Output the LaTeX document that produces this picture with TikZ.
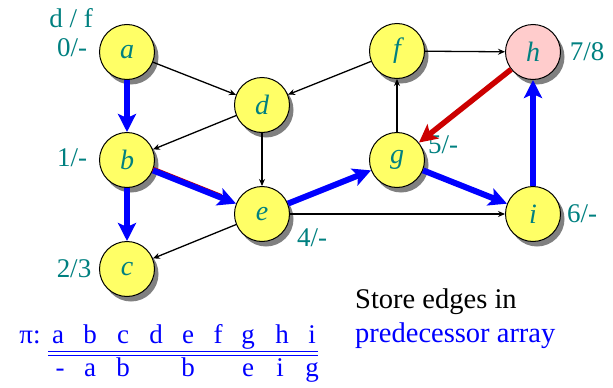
\documentclass[tikz,border=0pt]{standalone}
\usepackage{fontspec}
\setmainfont{Liberation Serif}
\usetikzlibrary{arrows.meta,shadows}
\definecolor{tealc}{RGB}{0,128,128}
\definecolor{nodey}{RGB}{255,255,102}
\definecolor{nodep}{RGB}{255,204,204}
\definecolor{redc}{RGB}{204,0,0}
\tikzset{
  vtx/.style={circle, draw=black, line width=1pt, fill=nodey, minimum size=55pt, inner sep=0pt,
    font=\fontsize{28}{28}\selectfont\itshape, text=tealc,
    drop shadow={shadow xshift=4pt, shadow yshift=-5pt, fill=gray, opacity=1}},
  lbl/.style={font=\fontsize{27}{27}\selectfont, text=tealc, inner sep=0pt},
  thinedge/.style={draw=black, line width=1.3pt, -{Stealth[length=7pt,width=6pt]}},
  blueedge/.style={draw=blue, line width=6pt, -{Stealth[length=18pt,width=18pt,inset=4pt]}},
  rededge/.style={draw=redc, line width=5.5pt, -{Stealth[length=18pt,width=18pt,inset=4pt]}},
  tbl/.style={font=\fontsize{27}{27}\selectfont, text=blue, anchor=base, inner sep=0pt},
  note/.style={font=\fontsize{28.5}{28.5}\selectfont, anchor=base west, inner sep=0pt}
}
\begin{document}
\begin{tikzpicture}[x=1pt,y=-1pt]
\useasboundingbox (0,0) rectangle (613,388);
% vertices
\node[vtx] (a) at (127,52) {a};
\node[vtx] (b) at (127,160) {b};
\node[vtx] (c) at (127,269) {c};
\node[vtx] (d) at (262,105) {d};
\node[vtx] (e) at (262,214) {e};
\node[vtx] (f) at (397,51) {f};
\node[vtx] (g) at (397,160) {g};
\node[vtx, fill=nodep] (h) at (533,52) {h};
\node[vtx] (i) at (533,214) {i};
% labels
\node[lbl] (ldf) at (71,18) {d / f};
\node[lbl] (la) at (72,48) {0/-};
\node[lbl] (lb) at (72,158) {1/-};
\node[lbl] (lc) at (74,269) {2/3};
\node[lbl] (le) at (312,238) {4/-};
\node[lbl] (lg) at (443,145) {5/-};
\node[lbl] (lh) at (587,52) {7/8};
\node[lbl] (li) at (582,214) {6/-};
% black edges
\draw[thinedge] (a) -- (d);
\draw[thinedge] (d) -- (b);
\draw[thinedge] (d) -- (e);
\draw[thinedge] (e) -- (c);
\draw[thinedge] (e) -- (i);
\draw[thinedge] (f) -- (d);
\draw[thinedge] (g) -- (f);
\draw[thinedge] (f) -- (h);
% red edge
\draw[rededge] (h) -- (g);
% blue tree edges
\draw[draw=redc, line width=5pt, shorten >=16pt, transform canvas={yshift=1.2pt}] (b) -- (e);
\draw[blueedge] (a) -- (b);
\draw[blueedge] (b) -- (c);
\draw[blueedge] (b) -- (e);
\draw[blueedge] (e) -- (g);
\draw[blueedge] (g) -- (i);
\draw[blueedge] (i) -- (h);
% predecessor table
\node[tbl] (pi) at (30,343) {π:};
\node[tbl] (ta) at (58,343) {a};
\node[tbl] (tb) at (90,343) {b};
\node[tbl] (tc) at (123,343) {c};
\node[tbl] (td) at (156,343) {d};
\node[tbl] (te) at (188,343) {e};
\node[tbl] (tf) at (218,343) {f};
\node[tbl] (tg) at (248,343) {g};
\node[tbl] (th) at (282,343) {h};
\node[tbl] (ti) at (312,343) {i};
\coordinate (ul1) at (48,351.5);
\coordinate (ur1) at (318,351.5);
\coordinate (ul2) at (48,355);
\coordinate (ur2) at (318,355);
\draw[blue, line width=1pt] (ul1) -- (ur1);
\draw[blue, line width=1pt] (ul2) -- (ur2);
\node[tbl] (pa) at (60,376) {-};
\node[tbl] (pb) at (90,376) {a};
\node[tbl] (pc) at (123,376) {b};
\node[tbl] (pe) at (188,376) {b};
\node[tbl] (pg) at (248,376) {e};
\node[tbl] (ph) at (280,376) {i};
\node[tbl] (pi2) at (312,376) {g};
% note
\node[note] (n1) at (355,308) {Store edges in};
\node[note, text=blue] (n2) at (355,342) {predecessor array};
\end{tikzpicture}
\end{document}
